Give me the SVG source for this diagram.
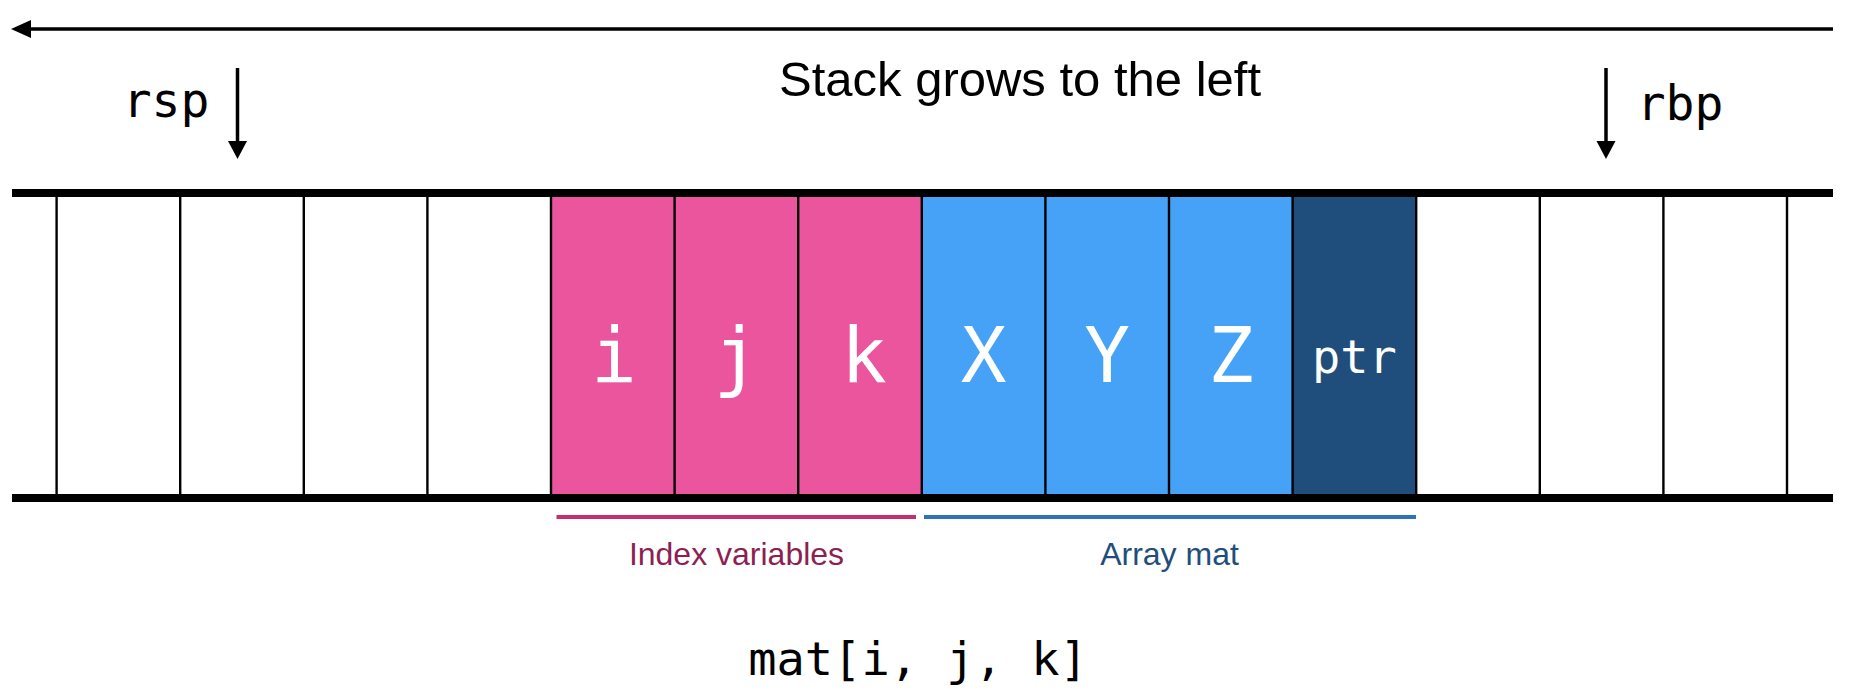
<svg xmlns="http://www.w3.org/2000/svg" width="1854" height="692" viewBox="0 0 1854 692">
  <style>
    .mono { font-family: "DejaVu Sans Mono", "Liberation Mono", monospace; }
    .sans { font-family: "Liberation Sans", Arial, sans-serif; }
    .cellText { fill: #ffffff; font-size: 76px; text-anchor: middle; }
    .small { font-size: 47px; }
    .reg { font-size: 48px; fill: #000000; text-anchor: middle; }
    .div { stroke: #000000; stroke-width: 2.4; }
    .bar { fill: #000000; }
    .pink { fill: #EB559E; }
    .blue { fill: #45A2F7; }
    .navy { fill: #1F4E7C; }
    .empty { fill: #ffffff; }
    .arrowline { stroke: #000000; stroke-width: 3.5; fill: none; }
  </style>
  <rect width="1854" height="692" fill="#ffffff"/>

  <g id="growth-arrow">
    <line class="arrowline" x1="28" y1="29" x2="1833" y2="29" stroke-width="4"/>
    <polygon points="11,29 31,20 31,38" fill="#000000"/>
    <text class="sans" x="1020" y="96" font-size="49" text-anchor="middle" fill="#000000">Stack grows to the left</text>
  </g>

  <g id="rsp">
    <text class="mono reg" x="166" y="117">rsp</text>
    <line class="arrowline" x1="237.5" y1="68" x2="237.5" y2="143"/>
    <polygon points="228,141 247,141 237.5,159" fill="#000000"/>
  </g>

  <g id="rbp">
    <text class="mono reg" x="1680" y="120">rbp</text>
    <line class="arrowline" x1="1606" y1="68" x2="1606" y2="143"/>
    <polygon points="1596.5,141 1615.5,141 1606,159" fill="#000000"/>
  </g>

  <g id="stack">
    <g id="cell-edge-left"><rect class="empty" x="12" y="197" width="44.6" height="297"/></g>
    <g id="cell-e1"><rect class="empty" x="56.6" y="197" width="123.6" height="297"/></g>
    <g id="cell-e2"><rect class="empty" x="180.2" y="197" width="123.6" height="297"/></g>
    <g id="cell-e3"><rect class="empty" x="303.8" y="197" width="123.6" height="297"/></g>
    <g id="cell-e4"><rect class="empty" x="427.4" y="197" width="123.6" height="297"/></g>
    <g id="cell-i"><rect class="pink" x="551" y="197" width="123.6" height="297"/><text class="mono cellText" x="614" y="382">i</text></g>
    <g id="cell-j"><rect class="pink" x="674.6" y="197" width="123.6" height="297"/><text class="mono cellText" x="736.4" y="382">j</text></g>
    <g id="cell-k"><rect class="pink" x="798.2" y="197" width="123.6" height="297"/><text class="mono cellText" x="864" y="382">k</text></g>
    <g id="cell-X"><rect class="blue" x="921.8" y="197" width="123.6" height="297"/><text class="mono cellText" x="983.6" y="382">X</text></g>
    <g id="cell-Y"><rect class="blue" x="1045.4" y="197" width="123.6" height="297"/><text class="mono cellText" x="1107.2" y="382">Y</text></g>
    <g id="cell-Z"><rect class="blue" x="1169" y="197" width="123.6" height="297"/><text class="mono cellText" x="1230.8" y="382">Z</text></g>
    <g id="cell-ptr"><rect class="navy" x="1292.6" y="197" width="123.6" height="297"/><text class="mono cellText small" x="1354.4" y="373">ptr</text></g>
    <g id="cell-e5"><rect class="empty" x="1416.2" y="197" width="123.6" height="297"/></g>
    <g id="cell-e6"><rect class="empty" x="1539.8" y="197" width="123.6" height="297"/></g>
    <g id="cell-e7"><rect class="empty" x="1663.4" y="197" width="123.6" height="297"/></g>
    <g id="cell-edge-right"><rect class="empty" x="1787" y="197" width="46" height="297"/></g>

    <g id="dividers">
      <line class="div" x1="56.6" y1="197" x2="56.6" y2="494"/>
      <line class="div" x1="180.2" y1="197" x2="180.2" y2="494"/>
      <line class="div" x1="303.8" y1="197" x2="303.8" y2="494"/>
      <line class="div" x1="427.4" y1="197" x2="427.4" y2="494"/>
      <line class="div" x1="551" y1="197" x2="551" y2="494"/>
      <line class="div" x1="674.6" y1="197" x2="674.6" y2="494"/>
      <line class="div" x1="798.2" y1="197" x2="798.2" y2="494"/>
      <line class="div" x1="921.8" y1="197" x2="921.8" y2="494"/>
      <line class="div" x1="1045.4" y1="197" x2="1045.4" y2="494"/>
      <line class="div" x1="1169" y1="197" x2="1169" y2="494"/>
      <line class="div" x1="1292.6" y1="197" x2="1292.6" y2="494"/>
      <line class="div" x1="1416.2" y1="197" x2="1416.2" y2="494"/>
      <line class="div" x1="1539.8" y1="197" x2="1539.8" y2="494"/>
      <line class="div" x1="1663.4" y1="197" x2="1663.4" y2="494"/>
      <line class="div" x1="1787" y1="197" x2="1787" y2="494"/>
    </g>
    <rect class="bar" x="12" y="189" width="1821" height="8"/>
    <rect class="bar" x="12" y="494" width="1821" height="8"/>
  </g>

  <g id="index-variables">
    <rect x="556.5" y="515" width="359.5" height="4" fill="#C4306E"/>
    <text class="sans" x="736.5" y="565" font-size="32" text-anchor="middle" fill="#8E1F52">Index variables</text>
  </g>

  <g id="array-mat">
    <rect x="924" y="515" width="492" height="4" fill="#2E73B4"/>
    <text class="sans" x="1169.5" y="565" font-size="32" text-anchor="middle" fill="#1F4E7C">Array mat</text>
  </g>

  <g id="expression">
    <text class="mono" x="918" y="675" font-size="47" text-anchor="middle" fill="#000000">mat[i, j, k]</text>
  </g>
</svg>
